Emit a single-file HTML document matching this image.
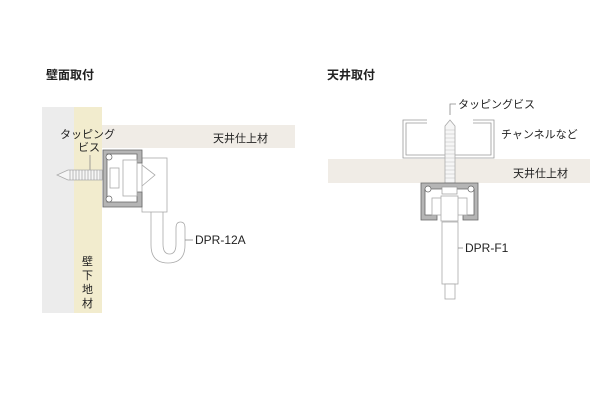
<!DOCTYPE html>
<html><head><meta charset="utf-8"><style>
body{margin:0;background:#fff}
svg text{font-family:"Liberation Sans","Noto Sans CJK JP",sans-serif;fill:#222}
</style></head><body>
<svg width="600" height="400" viewBox="0 0 600 400" xmlns="http://www.w3.org/2000/svg">
<rect width="600" height="400" fill="#fff"/>
<text x="46" y="79" font-size="12" font-weight="bold">壁面取付</text>
<text x="327" y="79" font-size="12" font-weight="bold">天井取付</text>

<!-- LEFT -->
<rect x="42" y="107" width="32" height="206" fill="#ececec"/>
<rect x="74" y="107" width="28" height="206" fill="#f2ecce"/>
<rect x="102" y="125" width="193" height="23" fill="#f0ece6"/>
<text x="213" y="142" font-size="11">天井仕上材</text>
<text x="60" y="138" font-size="11">タッピング</text>
<text x="78" y="151" font-size="11">ビス</text>
<line x1="90" y1="155" x2="90" y2="172" stroke="#888" stroke-width="0.8"/>
<!-- screw -->
<g stroke="#aaa" stroke-width="0.8" fill="#f6f6f6">
<path d="M102 170 L68 170 L57 175 L68 180 L102 180 Z"/>
<path d="M70 170 v10 M73 170 v10 M76 170 v10 M79 170 v10 M82 170 v10 M85 170 v10 M88 170 v10 M91 170 v10 M94 170 v10 M97 170 v10 M100 170 v10" fill="none"/>
</g>
<!-- bracket box -->
<rect x="142" y="158" width="25" height="54" fill="#fff" stroke="#aaa" stroke-width="0.8"/>
<path d="M142 165 L155 175 L142 186" fill="none" stroke="#aaa" stroke-width="0.8"/>
<!-- rail -->
<path d="M103 150 H142 V163 H137 V154 H107 V202 H137 V192 H142 V207 H103 Z" fill="#b5b5b5" stroke="#666" stroke-width="0.8"/>
<circle cx="109" cy="157" r="3" fill="#fff" stroke="#666" stroke-width="0.7"/>
<circle cx="109" cy="199" r="3" fill="#fff" stroke="#666" stroke-width="0.7"/>
<rect x="123" y="160" width="14" height="36" fill="#fff" stroke="#aaa" stroke-width="0.8"/>
<rect x="110" y="168" width="9" height="20" fill="#fff" stroke="#aaa" stroke-width="0.8"/>
<!-- hook -->
<path d="M151 212 V245 Q151 263 168 263 Q185 263 185 245 V228 Q185 222 180.5 222 Q176 222 176 228 V244 Q176 254 169.5 254 Q163 254 163 244 V212" fill="none" stroke="#aaa" stroke-width="0.8"/>
<line x1="185" y1="240" x2="193" y2="240" stroke="#888" stroke-width="0.8"/>
<text x="195" y="244" font-size="12">DPR-12A</text>
<g font-size="11"><text x="82" y="265">壁</text><text x="82" y="279">下</text><text x="82" y="293">地</text><text x="82" y="307">材</text></g>

<!-- RIGHT -->
<rect x="328" y="159" width="262" height="24" fill="#f0ece6"/>
<text x="513" y="177" font-size="11">天井仕上材</text>
<path d="M427 120 H403 V158 H494 V120 H473 M427 123 H406 V155 H491 V123 H473" fill="none" stroke="#999" stroke-width="0.8"/>
<text x="501" y="138" font-size="11">チャンネルなど</text>
<path d="M445 126 L450 120 L455 126 V183 H445 Z" fill="#f6f6f6" stroke="#aaa" stroke-width="0.8"/>
<path d="M445 130 h10 M445 134 h10 M445 138 h10 M445 142 h10 M445 146 h10 M445 150 h10 M445 154 h10 M445 158 h10 M445 162 h10 M445 166 h10 M445 170 h10 M445 174 h10 M445 178 h10" stroke="#bbb" stroke-width="0.6"/>
<path d="M450 115 V104 H456" fill="none" stroke="#888" stroke-width="0.8"/>
<text x="458" y="108" font-size="11">タッピングビス</text>
<!-- rail -->
<path d="M421 183 H478 V220 H463 V215 H474 V189 H425 V215 H437 V220 H421 Z" fill="#b5b5b5" stroke="#666" stroke-width="0.8"/>
<circle cx="428" cy="189" r="3" fill="#fff" stroke="#666" stroke-width="0.7"/>
<circle cx="471" cy="189" r="3" fill="#fff" stroke="#666" stroke-width="0.7"/>
<rect x="442" y="187" width="15" height="7" fill="#fff" stroke="#999" stroke-width="0.7"/>
<rect x="432" y="198" width="10" height="17" fill="#fff" stroke="#aaa" stroke-width="0.8"/>
<rect x="457" y="198" width="10" height="17" fill="#fff" stroke="#aaa" stroke-width="0.8"/>
<rect x="441" y="196" width="17" height="25" fill="#fff" stroke="#aaa" stroke-width="0.8"/>
<rect x="442" y="222" width="16" height="62" fill="#fff" stroke="#aaa" stroke-width="0.8"/>
<rect x="445" y="284" width="10" height="15" fill="#fff" stroke="#aaa" stroke-width="0.8"/>
<line x1="458" y1="248" x2="463" y2="248" stroke="#888" stroke-width="0.8"/>
<text x="465" y="252" font-size="12">DPR-F1</text>
</svg>
</body></html>
